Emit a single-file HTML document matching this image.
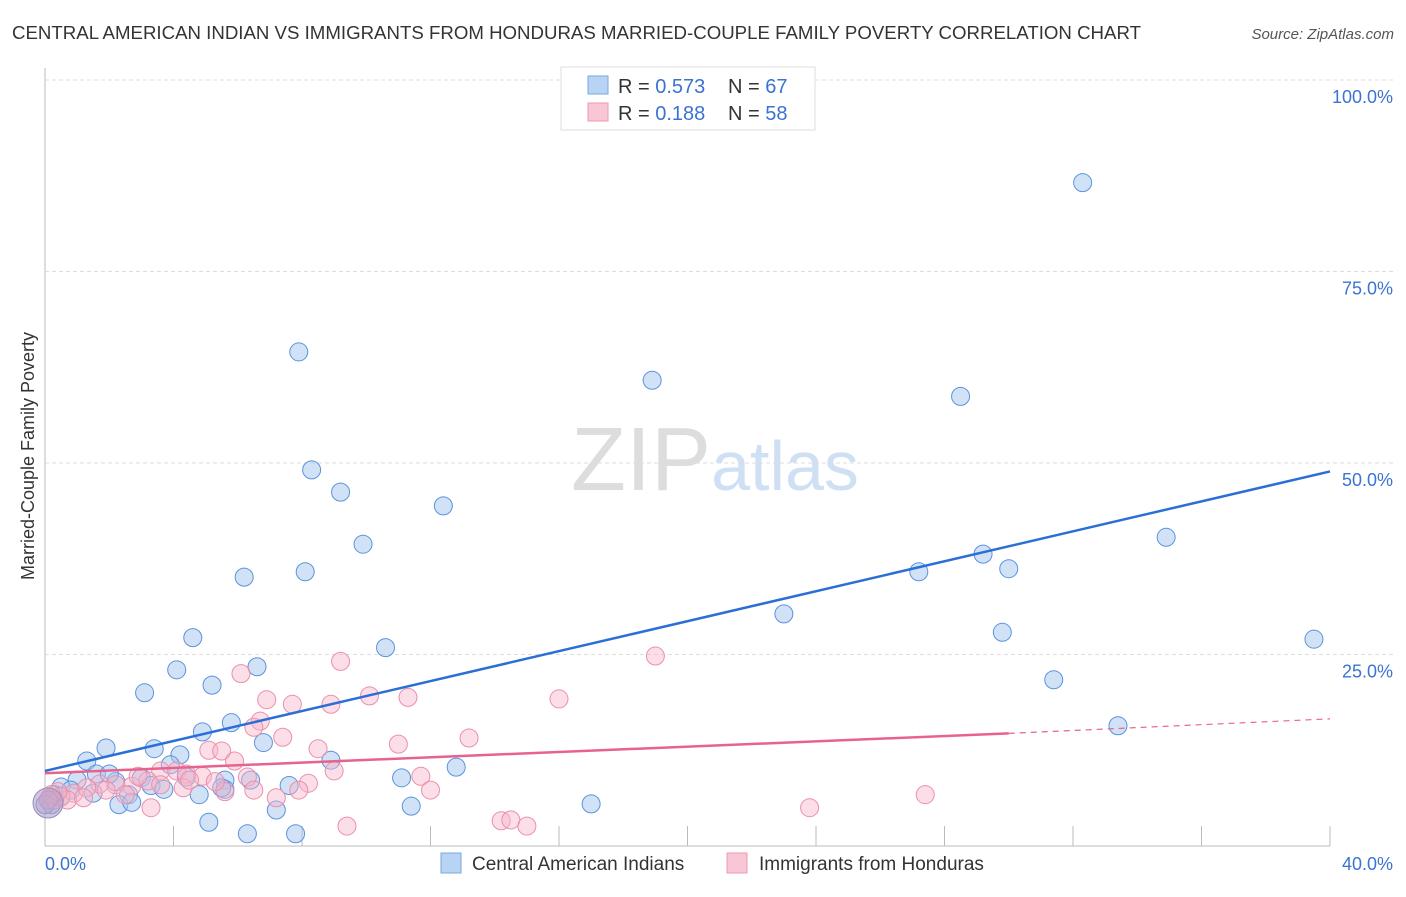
<!DOCTYPE html>
<html><head><meta charset="utf-8"><style>
body{margin:0;background:#fff;font-family:"Liberation Sans",sans-serif}
svg text{font-family:"Liberation Sans",sans-serif}
</style></head><body>
<svg id="c" width="1406" height="892">
<text x="12" y="39" font-size="18" fill="#333" textLength="1129" lengthAdjust="spacingAndGlyphs">CENTRAL AMERICAN INDIAN VS IMMIGRANTS FROM HONDURAS MARRIED-COUPLE FAMILY POVERTY CORRELATION CHART</text>
<text x="1394" y="39" font-size="15" fill="#555" font-style="italic" text-anchor="end">Source: ZipAtlas.com</text>
<text x="715" y="490" font-size="90" fill="#ddd" text-anchor="middle" font-family="Liberation Serif">ZIP<tspan fill="#cfe0f5" font-family="Liberation Sans" font-size="70">atlas</tspan></text>
<text x="34" y="456" font-size="18" fill="#333" text-anchor="middle" transform="rotate(-90 34 456)">Married-Couple Family Poverty</text>
<g id="grid"></g><g id="pts"></g><g id="lines"></g>
<g>
<rect x="561" y="67" width="254" height="63" fill="#fff" stroke="#ddd"/>
<rect x="588" y="76" width="20" height="18" fill="#b8d4f5" stroke="#7aa7e0"/>
<rect x="588" y="103" width="20" height="18" fill="#f9c6d5" stroke="#ec9ab2"/>
<text x="618" y="93" font-size="20" fill="#333">R = <tspan fill="#3b73d1">0.573</tspan><tspan x="728">N = </tspan><tspan fill="#3b73d1">67</tspan></text>
<text x="618" y="120" font-size="20" fill="#333">R =  <tspan fill="#3b73d1">0.188</tspan><tspan x="728">N = </tspan><tspan fill="#3b73d1">58</tspan></text>
</g>
<g>
<rect x="441" y="853" width="20" height="20" fill="#b8d4f5" stroke="#7aa7e0"/>
<text x="472" y="870" font-size="19" fill="#333">Central American Indians</text>
<rect x="727" y="853" width="20" height="20" fill="#f9c6d5" stroke="#ec9ab2"/>
<text x="759" y="870" font-size="19" fill="#333">Immigrants from Honduras</text>
</g>
</svg>
<script>
const blueX=[32.3,7.9,18.9,28.5,8.3,9.2,12.4,9.9,34.9,29.2,30.0,27.2,6.2,8.1,23.0,29.8,4.6,39.5,10.6,4.1,6.6,31.4,3.1,5.2,33.4,5.8,4.9,6.8,1.9,3.4,4.2,1.3,8.9,12.8,3.9,1.6,3.0,1.0,2.2,4.4,0.5,5.6,11.1,6.4,7.6,4.8,2.6,3.3,1.5,0.3,17.0,11.4,7.2,2.3,2.7,5.1,6.3,7.8,0.1,0.5,0.8,5.6,3.7,5.5,2.0,0.2,0.0];
const blueY=[86.6,64.5,60.8,58.7,49.1,46.2,44.4,39.4,40.3,38.1,36.2,35.8,35.1,35.8,30.3,27.9,27.2,27.0,25.9,23.0,23.4,21.7,20.0,21.0,15.7,16.1,14.9,13.5,12.8,12.7,11.9,11.1,11.2,10.3,10.6,9.4,8.9,8.6,8.4,9.0,7.7,8.6,8.9,8.6,7.9,6.7,6.7,7.9,6.9,6.7,5.5,5.2,4.7,5.4,5.7,3.1,1.6,1.6,6.0,6.5,7.3,7.4,7.4,7.6,9.4,5.4,5.4];
const pinkX=[19.0,9.2,6.1,10.1,16.0,11.3,6.9,7.7,8.9,6.7,6.5,13.2,7.4,11.0,8.5,5.1,5.5,5.9,3.6,4.1,6.3,9.0,4.9,4.4,11.7,8.2,12.0,3.2,2.7,2.2,1.7,2.5,0.9,1.3,0.5,0.7,0.3,3.3,7.2,5.6,4.3,5.3,23.8,27.4,14.2,14.5,15.0,9.4,2.9,3.6,1.9,1.2,0.4,0.2,4.5,6.5,7.9,0.1];
const pinkY=[24.8,24.1,22.5,19.6,19.2,19.4,19.1,18.5,18.5,16.3,15.5,14.1,14.2,13.3,12.7,12.5,12.4,11.1,9.8,9.8,9.0,9.8,9.1,9.4,9.1,8.2,7.3,8.5,7.8,8.0,8.1,6.7,6.9,7.6,6.4,6.0,6.0,5.0,6.3,7.1,7.6,8.4,5.0,6.7,3.3,3.4,2.6,2.6,9.1,8.0,7.3,6.3,7.1,6.7,8.6,7.3,7.3,6.0];
const xTicks=[4,8,12,16,20,24,28,32,36,40];
const yTicks=[25,50,75,100];
const sx=v=>45+v*32.125, sy=v=>846-v*7.66;
const NS="http://www.w3.org/2000/svg";
function mk(tag,attrs,parent){const e=document.createElementNS(NS,tag);for(const k in attrs)e.setAttribute(k,attrs[k]);parent.appendChild(e);return e;}
const g=document.getElementById('grid');
mk('line',{x1:45,y1:68,x2:45,y2:846,stroke:'#bbb'},g);
mk('line',{x1:45,y1:846,x2:1330,y2:846,stroke:'#bbb'},g);
yTicks.forEach(t=>{
 const l=mk('line',{x1:45,y1:sy(t),x2:1394,y2:sy(t),stroke:'#ddd','stroke-dasharray':'4,3'},g);
 
 
 const tx=mk('text',{x:1393,y:sy(t)+23,'font-size':18,fill:'#3b73d1','text-anchor':'end'},g);tx.textContent=t.toFixed(1)+'%';
 
 
});
xTicks.forEach(t=>{
 const l=mk('line',{x1:sx(t),y1:826,x2:sx(t),y2:846,stroke:'#bbb'},g);
 
 
});
let t0=mk('text',{x:45,y:870,'font-size':18,fill:'#3b73d1'},g);t0.textContent='0.0%';


let t1=mk('text',{x:1393,y:870,'font-size':18,fill:'#3b73d1','text-anchor':'end'},g);t1.textContent='40.0%';


const p=document.getElementById('pts');
blueX.forEach((x,i)=>{
 const c=mk('circle',{cx:sx(x),cy:sy(blueY[i]),r:9,fill:'rgba(164,198,240,0.5)',stroke:'#5b93de','stroke-width':1},p);
 
 
});
pinkX.forEach((x,i)=>{
 const c=mk('circle',{cx:sx(x),cy:sy(pinkY[i]),r:9,fill:'rgba(247,182,202,0.45)',stroke:'#ec8fab','stroke-width':1},p);
 
 
});
const big=mk('circle',{cx:48,cy:803,r:15,fill:'rgba(180,160,200,0.6)',stroke:'#9a8cc0'},p);


const L=document.getElementById('lines');
const bl=mk('line',{x1:sx(0),y1:sy(9.8),x2:sx(40),y2:sy(48.9),stroke:'#2a6fd6','stroke-width':2.5},L);


const pl=mk('line',{x1:sx(0),y1:sy(9.5),x2:sx(30),y2:sy(14.7),stroke:'#e8638c','stroke-width':2.5},L);


const pd=mk('line',{x1:sx(30),y1:sy(14.7),x2:sx(40),y2:sy(16.6),stroke:'#e8638c','stroke-width':1.2,'stroke-dasharray':'6,5'},L);


</script>
</body></html>
